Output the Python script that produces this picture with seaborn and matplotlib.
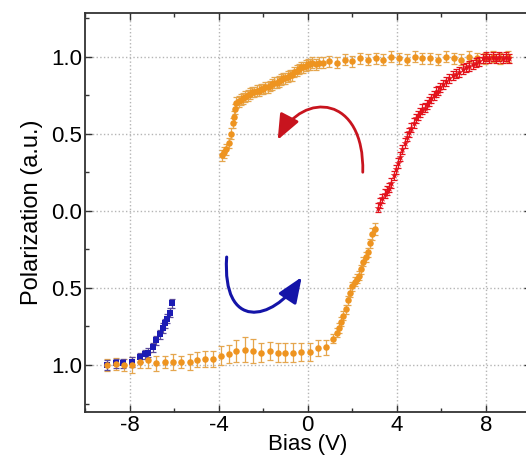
import matplotlib
matplotlib.use("Agg")
import matplotlib.pyplot as plt
from matplotlib.patches import FancyArrowPatch
from matplotlib.path import Path
from matplotlib.ticker import MultipleLocator
import seaborn as sns

# upper branch (sweep from +9 V down), flat part then steep part
upper_flat_x = [9.0, 8.65, 8.3, 7.95, 7.6, 7.25, 6.9, 6.55, 6.2, 5.85,
                5.5, 5.15, 4.8, 4.45, 4.1, 3.75, 3.4, 3.05, 2.7, 2.35,
                2.0, 1.65, 1.3, 0.95, 0.7]
upper_flat_y = [1.0, 0.99, 1.0, 0.99, 0.99, 1.0, 0.98, 0.99, 1.0, 0.98,
                0.99, 0.99, 1.0, 0.98, 0.99, 1.0, 0.98, 0.99, 0.98, 0.99,
                0.97, 0.98, 0.96, 0.97, 0.96]
upper_steep_x = [0.5, 0.35, 0.2, 0.1, 0.0, -0.1, -0.2, -0.3, -0.4, -0.5,
                 -0.6, -0.7, -0.8, -0.9, -1.0, -1.1, -1.2, -1.3, -1.4, -1.5,
                 -1.6, -1.7, -1.8, -1.9, -2.0, -2.1, -2.2, -2.3, -2.4, -2.5,
                 -2.6, -2.7, -2.8, -2.9, -3.0, -3.1, -3.2, -3.25, -3.3, -3.36,
                 -3.45, -3.55, -3.65, -3.75, -3.85]
upper_steep_y = [0.96, 0.95, 0.96, 0.95, 0.95, 0.94, 0.93, 0.93, 0.92, 0.91,
                 0.90, 0.88, 0.88, 0.87, 0.86, 0.86, 0.85, 0.84, 0.83, 0.83,
                 0.82, 0.81, 0.80, 0.80, 0.79, 0.79, 0.78, 0.78, 0.77, 0.77,
                 0.76, 0.75, 0.74, 0.73, 0.72, 0.71, 0.70, 0.66, 0.61, 0.57,
                 0.50, 0.44, 0.40, 0.38, 0.36]
upper_err = 0.035

# lower branch (sweep from -9 V up)
lower_x = [-9.0, -8.6, -8.25, -7.9, -7.55, -7.15, -6.8, -6.4, -6.05, -5.7,
           -5.3, -4.95, -4.6, -4.25, -3.9, -3.55, -3.2, -2.8, -2.45, -2.1,
           -1.7, -1.35, -1.0, -0.65, -0.3, 0.1, 0.45, 0.8,
           1.15, 1.3, 1.4, 1.5, 1.6, 1.7, 1.8, 1.9, 2.0, 2.1,
           2.2, 2.3, 2.4, 2.5, 2.6, 2.7, 2.8, 2.9, 3.0]
lower_y = [-1.0, -0.995, -1.0, -1.0, -0.98, -0.97, -0.99, -0.98, -0.98, -0.98,
           -0.98, -0.965, -0.96, -0.96, -0.94, -0.93, -0.91, -0.90, -0.91, -0.92,
           -0.91, -0.92, -0.92, -0.92, -0.915, -0.915, -0.89, -0.885,
           -0.83, -0.79, -0.76, -0.72, -0.68, -0.64, -0.58, -0.53, -0.49, -0.46,
           -0.44, -0.42, -0.38, -0.33, -0.30, -0.27, -0.21, -0.15, -0.12]
lower_err = [0.04, 0.04, 0.04, 0.05, 0.04, 0.05, 0.05, 0.04, 0.05, 0.04,
             0.05, 0.05, 0.05, 0.05, 0.06, 0.06, 0.07, 0.08, 0.08, 0.06,
             0.06, 0.06, 0.06, 0.06, 0.06, 0.06, 0.05, 0.05,
             0.03, 0.03, 0.03, 0.03, 0.03, 0.03, 0.03, 0.03, 0.03, 0.03,
             0.03, 0.03, 0.03, 0.03, 0.03, 0.03, 0.03, 0.04, 0.04]

# red segment (0 -> +9 V)
red_x = [3.15, 3.25, 3.35, 3.45, 3.55, 3.65, 3.75, 3.85, 3.95, 4.05,
         4.15, 4.25, 4.35, 4.45, 4.55, 4.65, 4.75, 4.85, 4.95, 5.05,
         5.15, 5.25, 5.35, 5.45, 5.55, 5.65, 5.75, 5.85, 5.95, 6.05,
         6.2, 6.35, 6.5, 6.65, 6.8, 6.95, 7.1, 7.25, 7.4, 7.55,
         7.7, 7.85, 8.0, 8.15, 8.3, 8.45, 8.6, 8.75, 8.9, 9.05]
red_y = [0.02, 0.05, 0.08, 0.11, 0.13, 0.15, 0.18, 0.23, 0.27, 0.31,
         0.35, 0.40, 0.44, 0.48, 0.51, 0.54, 0.57, 0.60, 0.62, 0.64,
         0.66, 0.67, 0.69, 0.71, 0.73, 0.75, 0.77, 0.78, 0.80, 0.82,
         0.84, 0.86, 0.88, 0.89, 0.90, 0.92, 0.93, 0.94, 0.95, 0.96,
         0.97, 0.99, 1.0, 0.99, 1.0, 0.99, 1.0, 0.99, 1.0, 0.99]
red_err = 0.03

# blue segment (start of sweep)
blue_x = [-9.0, -8.6, -8.3, -7.9, -7.55, -7.3, -7.15, -6.95, -6.8, -6.65,
          -6.5, -6.4, -6.3, -6.2, -6.1]
blue_y = [-1.0, -0.99, -0.99, -0.98, -0.95, -0.93, -0.92, -0.885, -0.84, -0.80,
          -0.76, -0.73, -0.70, -0.66, -0.60]
blue_err = 0.03

x_ticks = [-8, -4, 0, 4, 8]
x_ticklabels = ["-8", "-4", "0", "4", "8"]
y_ticks = [-1.0, -0.5, 0.0, 0.5, 1.0]
y_ticklabels = ["1.0", "0.5", "0.0", "0.5", "1.0"]

orange = "#ee9420"
orange_err = "#e5a64e"
red = "#e3121c"
blue = "#1c1cb4"

sns.set_style("ticks", {"text.color": "black", "axes.labelcolor": "black",
                        "xtick.color": "black", "ytick.color": "black"})
plt.rcParams["font.family"] = ["Liberation Sans", "DejaVu Sans"]

fig = plt.figure(figsize=(5.26, 4.59), dpi=100)
ax = fig.add_axes([85 / 526, 1 - 412 / 459, 445.5 / 526, 399 / 459])

upper_x = upper_flat_x + upper_steep_x
upper_y = upper_flat_y + upper_steep_y

# error bars first, markers on top
ax.errorbar(upper_x, upper_y, yerr=upper_err, fmt="none", ecolor=orange_err,
            elinewidth=0.9, capsize=2.5, capthick=0.9, zorder=2)
ax.errorbar(lower_x, lower_y, yerr=lower_err, fmt="none", ecolor=orange_err,
            elinewidth=0.9, capsize=2.5, capthick=0.9, zorder=2)
ax.errorbar(blue_x, blue_y, yerr=blue_err, fmt="none", ecolor="#5a4a9a",
            elinewidth=0.9, capsize=2, capthick=0.9, zorder=2)
ax.errorbar(red_x, red_y, yerr=red_err, fmt="none", ecolor=red,
            elinewidth=0.9, capsize=2.5, capthick=0.9, zorder=4)

sns.scatterplot(x=blue_x, y=blue_y, ax=ax, color=blue, marker="s", s=16,
                linewidth=0, zorder=3)
sns.scatterplot(x=upper_x, y=upper_y, ax=ax, color=orange, marker="o", s=22,
                linewidth=0, zorder=3)
sns.scatterplot(x=lower_x, y=lower_y, ax=ax, color=orange, marker="o", s=22,
                linewidth=0, zorder=3)
sns.scatterplot(x=red_x, y=red_y, ax=ax, color=red, marker="*", s=34,
                linewidth=0, zorder=5)

# curved arrows showing sweep direction
red_path = Path([(2.47, 0.25), (2.55, 0.75), (-0.2, 0.78), (-1.35, 0.46)],
                [Path.MOVETO, Path.CURVE4, Path.CURVE4, Path.CURVE4])
ax.add_patch(FancyArrowPatch(path=red_path, arrowstyle="-|>,head_length=1.1,head_width=0.45",
                             mutation_scale=14, color="#c8141e", lw=2.0, zorder=6))
blue_path = Path([(-3.64, -0.30), (-3.85, -0.78), (-1.6, -0.72), (-0.27, -0.43)],
                 [Path.MOVETO, Path.CURVE4, Path.CURVE4, Path.CURVE4])
ax.add_patch(FancyArrowPatch(path=blue_path, arrowstyle="-|>,head_length=1.1,head_width=0.45",
                             mutation_scale=14, color="#1414a8", lw=2.2, zorder=6))

ax.set_xlim(-10, 10)
ax.set_ylim(-1.305, 1.283)
ax.set_xticks(x_ticks)
ax.set_xticklabels(x_ticklabels)
ax.set_yticks(y_ticks)
ax.set_yticklabels(y_ticklabels)
ax.xaxis.set_minor_locator(MultipleLocator(2))
ax.yaxis.set_minor_locator(MultipleLocator(0.25))
ax.tick_params(which="both", direction="in", top=True, right=True,
               color="#333333", labelcolor="black", width=1.0, labelsize=16, pad=2)
ax.tick_params(which="major", length=5)
ax.tick_params(which="minor", length=3)
ax.grid(True, which="major", ls=":", color="#b5b5b5", lw=1.0)
for sp in ax.spines.values():
    sp.set_color("#333333")
    sp.set_linewidth(1.3)

ax.set_xlabel("Bias (V)", fontsize=16, labelpad=-1, color="black")
ax.set_ylabel("Polarization (a.u.)", fontsize=17, labelpad=6, color="black")

fig.savefig("out.png", dpi=100)
